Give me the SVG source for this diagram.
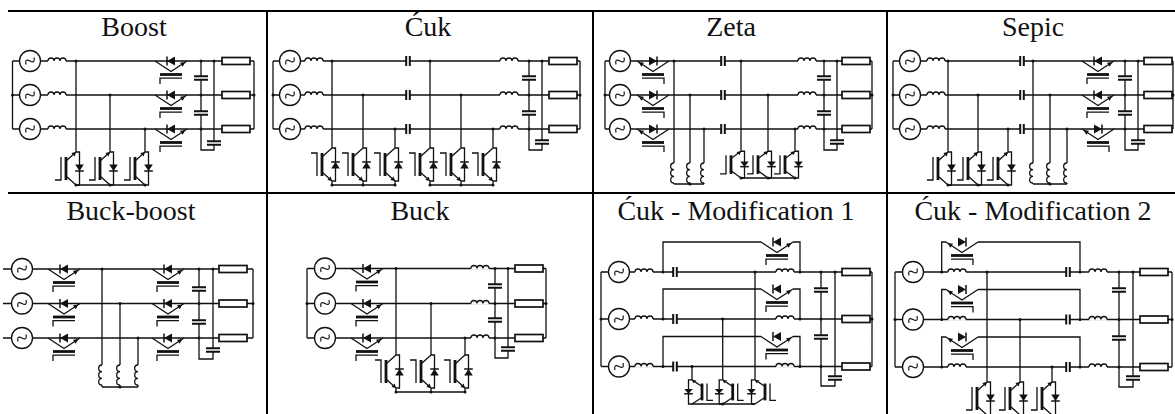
<svg xmlns="http://www.w3.org/2000/svg" width="1175" height="414" viewBox="0 0 1175 414">
<style>
.w{fill:none;stroke:#111;stroke-width:1.3}
.t{font-size:28px;fill:#111;text-anchor:middle}
.grid{fill:none;stroke:#000;stroke-width:2}
</style>
<defs>
<g id="src"><circle r="10.5" fill="#fff" stroke="#111" stroke-width="1.3"/><path d="M-4,3.5 Q-5.5,-3 0,0 Q5.5,3 4,-3.5" fill="none" stroke="#111" stroke-width="1.2"/></g>
<g id="lh"><rect x="0" y="-1.2" width="18" height="2.4" fill="#fff"/><path d="M0,0 a3,3 0 0 1 6,0 a3,3 0 0 1 6,0 a3,3 0 0 1 6,0" fill="none" stroke="#111" stroke-width="1.3"/></g>
<g id="lv"><rect x="-1.2" y="0" width="2.4" height="20" fill="#fff"/><path d="M0,0 a3.33,3.33 0 0 0 0,6.67 a3.33,3.33 0 0 0 0,6.67 a3.33,3.33 0 0 0 0,6.66" fill="none" stroke="#111" stroke-width="1.3"/></g>
<g id="cv"><rect x="-7" y="-1.8" width="14" height="3.6" fill="#fff"/><path d="M-7,-1.8 H7 M-7,1.8 H7" stroke="#111" stroke-width="2"/></g>
<g id="ch"><rect x="-1.8" y="-5" width="3.6" height="10" fill="#fff"/><path d="M-1.8,-5 V5 M1.8,-5 V5" stroke="#111" stroke-width="2"/></g>
<rect id="res" x="0" y="-3.5" width="28" height="7" fill="#fff" stroke="#111" stroke-width="1.7"/>
<circle id="dot" r="1.5" fill="#111"/>
<g id="igbt" fill="none" stroke="#111" stroke-width="1.3">
<path d="M0,0 H3.5 V33 H0 V37 M0,0 L-10,9 M-10,24 L0,33" vector-effect="non-scaling-stroke"/>
<path d="M-10,5 V28" stroke-width="2.8"/>
<path d="M-21,5 H-15 V28" vector-effect="non-scaling-stroke"/>
<polygon points="0,33 -4.6,32.1 -1.4,28.5" fill="#111" stroke="none"/>
<polygon points="-0.8,20.5 7.8,20.5 3.5,14" fill="#111" stroke="none"/>
<path d="M-0.8,14 H7.8" stroke-width="1.5" vector-effect="non-scaling-stroke"/>
</g>
<g id="sw" fill="none" stroke="#111" stroke-width="1.3">
<path d="M0,0 L16,10.5 L32,0"/>
<polygon points="30.5,1 27.6,5.7 25,1.8" fill="#111" stroke="none"/>
<path d="M5,13.5 H27" stroke-width="2.8"/>
<path d="M5,23 V17.2 H27"/>
<polygon points="12,0 20,-4.5 20,4.5" fill="#111" stroke="none"/>
<path d="M12,-4.5 V4.5" stroke-width="1.5"/>
</g>
</defs>
<rect width="1175" height="414" fill="#fff"/>
<g id="table" class="grid"><path d="M8,11 H1175 M8,193 H1175 M267,11 V414 M593,11 V414 M887,11 V414"/></g>
<g id="titles" font-family="'Liberation Serif', 'DejaVu Serif', serif">
<text class="t" font-family="Liberation Serif, DejaVu Serif, serif" x="134" y="36">Boost</text>
<text class="t" font-family="Liberation Serif, DejaVu Serif, serif" x="428" y="36">Ćuk</text>
<text class="t" font-family="Liberation Serif, DejaVu Serif, serif" x="731" y="36">Zeta</text>
<text class="t" font-family="Liberation Serif, DejaVu Serif, serif" x="1033" y="36">Sepic</text>
<text class="t" font-family="Liberation Serif, DejaVu Serif, serif" x="131" y="220">Buck-boost</text>
<text class="t" font-family="Liberation Serif, DejaVu Serif, serif" x="420" y="220">Buck</text>
<text class="t" font-family="Liberation Serif, DejaVu Serif, serif" x="736" y="220">Ćuk - Modification 1</text>
<text class="t" font-family="Liberation Serif, DejaVu Serif, serif" x="1033" y="220">Ćuk - Modification 2</text>
</g>
<g id="connectors" class="w">
<path id="boost-wires" d="M12.5,61 V129 M254,61 V129 M12.5,61 H254 M12.5,95 H254 M12.5,129 H254 M76,61 V148 M110,95 V148 M145,129 V148 M76,185 H145 M201,61 V150 H214 V61"/>
<path id="cuk-wires" d="M273,61 V129 M580,61 V129 M273,61 H580 M273,95 H580 M273,129 H580 M332,61 V148 M363,95 V148 M395,129 V148 M430,61 V148 M461,95 V148 M493,129 V148 M332,185 H395 M430,185 H493 M529,61 V150 H542 V61"/>
<path id="zeta-wires" d="M605,61 V129 M872,61 V129 M605,61 H872 M605,95 H872 M605,129 H872 M674,61 V184 M690,95 V184 M704,129 V184 M674,184 H704 M741,61 V148 M768,95 V148 M795,129 V148 M741,178 H795 M824,61 V150 H837 V61"/>
<path id="sepic-wires" d="M893,61 V129 M1173,61 V129 M893,61 H1173 M893,95 H1173 M893,129 H1173 M948,61 V148 M978,95 V148 M1008,129 V148 M948,185 H1008 M1033,61 V184 M1050,95 V184 M1067,129 V184 M1033,184 H1067 M1125,61 V150 H1138 V61"/>
<path id="buckboost-wires" d="M3,269 H253 M3,303.5 H253 M3,338 H253 M253,269 V338 M102,269 V387 M120,303.5 V387 M138,338 V387 M102,387 H138 M199,269 V359 H213 V269"/>
<path id="buck-wires" d="M307,268.5 V338 M546,268.5 V338 M307,268.5 H546 M307,303.5 H546 M307,338 H546 M396,268.5 V355 M431,303.5 V355 M465,338 V355 M396,392 H465 M495,268.5 V358 H508 V268.5"/>
<path id="mod1-wires" d="M601,272 V366.5 M872,272 V366.5 M601,272 H872 M601,319 H872 M601,366.5 H872 M663,272 V242 H761 M793,242 H800 V272 M663,319 V289 H761 M793,289 H800 V319 M663,366.5 V336.5 H761 M793,336.5 H800 V366.5 M755,272 V377 M722.7,319 V377 M692,366.5 V377 M692,404 H755 M821,272 V386 H835 V272"/>
<path id="mod2-wires" d="M895,272 V367 M1172,272 V367 M895,272 H1172 M895,319.5 H1172 M895,367 H1172 M941.7,272 V242 H946 M978,242 H1080 V272 M941.7,319.5 V289.5 H946 M978,289.5 H1080 V319.5 M941.7,367 V337 H946 M978,337 H1080 V367 M987,272 V378 M1020,319.5 V378 M1052,367 V378 M1119,272 V387 H1133 V272"/>
</g>
<g id="boost">
<use href="#src" x="30" y="61"/><use href="#src" x="30" y="95"/><use href="#src" x="30" y="129"/>
<use href="#lh" x="48" y="61"/><use href="#lh" x="48" y="95"/><use href="#lh" x="48" y="129"/>
<use href="#sw" x="155" y="61"/><use href="#sw" x="155" y="95"/><use href="#sw" x="155" y="129"/>
<use href="#igbt" transform="translate(76,185) scale(1,-1)"/><use href="#igbt" transform="translate(110,185) scale(1,-1)"/><use href="#igbt" transform="translate(145,185) scale(1,-1)"/>
<use href="#cv" x="201" y="78"/><use href="#cv" x="201" y="113"/><use href="#cv" x="214" y="143"/>
<use href="#res" x="222" y="61"/><use href="#res" x="222" y="95"/><use href="#res" x="222" y="129"/>
</g>
<g id="cuk">
<use href="#src" x="290" y="61"/><use href="#src" x="290" y="95"/><use href="#src" x="290" y="129"/>
<use href="#lh" x="305" y="61"/><use href="#lh" x="305" y="95"/><use href="#lh" x="305" y="129"/>
<use href="#igbt" x="332" y="148"/><use href="#igbt" x="363" y="148"/><use href="#igbt" x="395" y="148"/>
<use href="#igbt" x="430" y="148"/><use href="#igbt" x="461" y="148"/><use href="#igbt" x="493" y="148"/>
<use href="#ch" x="408" y="61"/><use href="#ch" x="408" y="95"/><use href="#ch" x="408" y="129"/>
<use href="#lh" x="500" y="61"/><use href="#lh" x="500" y="95"/><use href="#lh" x="500" y="129"/>
<use href="#cv" x="529" y="78"/><use href="#cv" x="529" y="113"/><use href="#cv" x="542" y="142"/>
<use href="#res" x="549" y="61"/><use href="#res" x="549" y="95"/><use href="#res" x="549" y="129"/>
</g>
<g id="zeta">
<use href="#src" x="620" y="61"/><use href="#src" x="620" y="95"/><use href="#src" x="620" y="129"/>
<use href="#sw" transform="translate(669,61) scale(-1,1)"/><use href="#sw" transform="translate(669,95) scale(-1,1)"/><use href="#sw" transform="translate(669,129) scale(-1,1)"/>
<use href="#lv" x="674" y="163"/><use href="#lv" x="690" y="163"/><use href="#lv" x="704" y="163"/>
<use href="#ch" x="723" y="61"/><use href="#ch" x="723" y="95"/><use href="#ch" x="723" y="129"/>
<use href="#igbt" transform="translate(741,178) scale(1,-0.81)"/><use href="#igbt" transform="translate(768,178) scale(1,-0.81)"/><use href="#igbt" transform="translate(795,178) scale(1,-0.81)"/>
<use href="#lh" x="798" y="61"/><use href="#lh" x="798" y="95"/><use href="#lh" x="798" y="129"/>
<use href="#cv" x="824" y="78"/><use href="#cv" x="824" y="113"/><use href="#cv" x="837" y="142"/>
<use href="#res" x="842" y="61"/><use href="#res" x="842" y="95"/><use href="#res" x="842" y="129"/>
</g>
<g id="sepic">
<use href="#src" x="910" y="61"/><use href="#src" x="910" y="95"/><use href="#src" x="910" y="129"/>
<use href="#lh" x="927" y="61"/><use href="#lh" x="927" y="95"/><use href="#lh" x="927" y="129"/>
<use href="#igbt" transform="translate(948,185) scale(1,-1)"/><use href="#igbt" transform="translate(978,185) scale(1,-1)"/><use href="#igbt" transform="translate(1008,185) scale(1,-1)"/>
<use href="#ch" x="1022" y="61"/><use href="#ch" x="1022" y="95"/><use href="#ch" x="1022" y="129"/>
<use href="#lv" x="1033" y="163"/><use href="#lv" x="1050" y="163"/><use href="#lv" x="1067" y="163"/>
<use href="#sw" x="1082" y="61"/><use href="#sw" x="1082" y="95"/><use href="#sw" transform="translate(1114,129) scale(-1,1)"/>
<use href="#cv" x="1125" y="78"/><use href="#cv" x="1125" y="113"/><use href="#cv" x="1138" y="142"/>
<use href="#res" x="1144" y="61"/><use href="#res" x="1144" y="95"/><use href="#res" x="1144" y="129"/>
</g>
<g id="buckboost">
<use href="#src" x="22" y="269"/><use href="#src" x="22" y="303.5"/><use href="#src" x="22" y="338"/>
<use href="#sw" x="48" y="269"/><use href="#sw" x="48" y="303.5"/><use href="#sw" x="48" y="338"/>
<use href="#lv" x="102" y="365"/><use href="#lv" x="120" y="365"/><use href="#lv" x="138" y="365"/>
<use href="#sw" x="152" y="269"/><use href="#sw" x="152" y="303.5"/><use href="#sw" x="152" y="338"/>
<use href="#cv" x="199" y="289"/><use href="#cv" x="199" y="322"/><use href="#cv" x="213" y="350"/>
<use href="#res" x="219" y="269"/><use href="#res" x="219" y="303.5"/><use href="#res" x="219" y="338"/>
</g>
<g id="buck">
<use href="#src" x="325" y="268.5"/><use href="#src" x="325" y="303.5"/><use href="#src" x="325" y="338"/>
<use href="#sw" x="351" y="268.5"/><use href="#sw" x="351" y="303.5"/><use href="#sw" x="351" y="338"/>
<use href="#igbt" x="396" y="355"/><use href="#igbt" x="431" y="355"/><use href="#igbt" x="465" y="355"/>
<use href="#lh" x="471" y="268.5"/><use href="#lh" x="471" y="303.5"/><use href="#lh" x="471" y="338"/>
<use href="#cv" x="495" y="286"/><use href="#cv" x="495" y="320"/><use href="#cv" x="508" y="349"/>
<use href="#res" x="515" y="268.5"/><use href="#res" x="515" y="303.5"/><use href="#res" x="515" y="338"/>
</g>
<g id="mod1">
<use href="#src" x="619" y="272"/><use href="#src" x="619" y="319"/><use href="#src" x="619" y="366.5"/>
<use href="#lh" x="635" y="272"/><use href="#lh" x="635" y="319"/><use href="#lh" x="635" y="366.5"/>
<use href="#ch" x="675" y="272"/><use href="#ch" x="675" y="319"/><use href="#ch" x="675" y="366.5"/>
<use href="#sw" x="761" y="242"/><use href="#sw" x="761" y="289"/><use href="#sw" x="761" y="336.5"/>
<use href="#lh" x="776" y="272"/><use href="#lh" x="776" y="319"/><use href="#lh" x="776" y="366.5"/>
<use href="#igbt" transform="translate(755,404) scale(-1,-0.73)"/><use href="#igbt" transform="translate(722.7,404) scale(-1,-0.73)"/><use href="#igbt" transform="translate(692,404) scale(-1,-0.73)"/>
<use href="#cv" x="821" y="290"/><use href="#cv" x="821" y="337"/><use href="#cv" x="835" y="378"/>
<use href="#res" x="842" y="272"/><use href="#res" x="842" y="319"/><use href="#res" x="842" y="366.5"/>
</g>
<g id="mod2">
<use href="#src" x="913" y="272"/><use href="#src" x="913" y="319.5"/><use href="#src" x="913" y="367"/>
<use href="#lh" x="948" y="272"/><use href="#lh" x="948" y="319.5"/><use href="#lh" x="948" y="367"/>
<use href="#sw" transform="translate(978,242) scale(-1,1)"/><use href="#sw" transform="translate(978,289.5) scale(-1,1)"/><use href="#sw" transform="translate(978,337) scale(-1,1)"/>
<use href="#igbt" transform="translate(987,415) scale(1,-1)"/><use href="#igbt" transform="translate(1020,415) scale(1,-1)"/><use href="#igbt" transform="translate(1052,415) scale(1,-1)"/>
<use href="#ch" x="1068" y="272"/><use href="#ch" x="1068" y="319.5"/><use href="#ch" x="1068" y="367"/>
<use href="#lh" x="1089" y="272"/><use href="#lh" x="1089" y="319.5"/><use href="#lh" x="1089" y="367"/>
<use href="#cv" x="1119" y="290"/><use href="#cv" x="1119" y="338"/><use href="#cv" x="1133" y="378"/>
<use href="#res" x="1140" y="272"/><use href="#res" x="1140" y="319.5"/><use href="#res" x="1140" y="367"/>
</g>
<g id="junctions">
<use href="#dot" x="12.5" y="95"/><use href="#dot" x="76" y="61"/><use href="#dot" x="110" y="95"/><use href="#dot" x="145" y="129"/><use href="#dot" x="76" y="185"/><use href="#dot" x="110" y="185"/><use href="#dot" x="145" y="185"/><use href="#dot" x="201" y="61"/><use href="#dot" x="201" y="95"/><use href="#dot" x="201" y="129"/><use href="#dot" x="214" y="61"/><use href="#dot" x="254" y="95"/>
<use href="#dot" x="273" y="95"/><use href="#dot" x="332" y="61"/><use href="#dot" x="363" y="95"/><use href="#dot" x="395" y="129"/><use href="#dot" x="430" y="61"/><use href="#dot" x="461" y="95"/><use href="#dot" x="493" y="129"/><use href="#dot" x="332" y="185"/><use href="#dot" x="363" y="185"/><use href="#dot" x="395" y="185"/><use href="#dot" x="430" y="185"/><use href="#dot" x="461" y="185"/><use href="#dot" x="493" y="185"/><use href="#dot" x="529" y="61"/><use href="#dot" x="529" y="95"/><use href="#dot" x="529" y="129"/><use href="#dot" x="542" y="61"/><use href="#dot" x="580" y="95"/>
<use href="#dot" x="605" y="95"/><use href="#dot" x="674" y="61"/><use href="#dot" x="690" y="95"/><use href="#dot" x="704" y="129"/><use href="#dot" x="690" y="184"/><use href="#dot" x="741" y="61"/><use href="#dot" x="768" y="95"/><use href="#dot" x="795" y="129"/><use href="#dot" x="741" y="178"/><use href="#dot" x="768" y="178"/><use href="#dot" x="795" y="178"/><use href="#dot" x="824" y="61"/><use href="#dot" x="824" y="95"/><use href="#dot" x="824" y="129"/><use href="#dot" x="837" y="61"/><use href="#dot" x="872" y="95"/>
<use href="#dot" x="893" y="95"/><use href="#dot" x="948" y="61"/><use href="#dot" x="978" y="95"/><use href="#dot" x="1008" y="129"/><use href="#dot" x="948" y="185"/><use href="#dot" x="978" y="185"/><use href="#dot" x="1008" y="185"/><use href="#dot" x="1033" y="61"/><use href="#dot" x="1050" y="95"/><use href="#dot" x="1067" y="129"/><use href="#dot" x="1050" y="184"/><use href="#dot" x="1125" y="61"/><use href="#dot" x="1125" y="95"/><use href="#dot" x="1125" y="129"/><use href="#dot" x="1138" y="61"/><use href="#dot" x="1173" y="95"/>
<use href="#dot" x="102" y="269"/><use href="#dot" x="120" y="303.5"/><use href="#dot" x="138" y="338"/><use href="#dot" x="120" y="387"/><use href="#dot" x="199" y="269"/><use href="#dot" x="199" y="303.5"/><use href="#dot" x="199" y="338"/><use href="#dot" x="213" y="269"/><use href="#dot" x="253" y="303.5"/>
<use href="#dot" x="307" y="303.5"/><use href="#dot" x="396" y="268.5"/><use href="#dot" x="431" y="303.5"/><use href="#dot" x="465" y="338"/><use href="#dot" x="396" y="392"/><use href="#dot" x="431" y="392"/><use href="#dot" x="465" y="392"/><use href="#dot" x="495" y="268.5"/><use href="#dot" x="495" y="303.5"/><use href="#dot" x="495" y="338"/><use href="#dot" x="508" y="268.5"/><use href="#dot" x="546" y="303.5"/>
<use href="#dot" x="601" y="319"/><use href="#dot" x="663" y="272"/><use href="#dot" x="663" y="319"/><use href="#dot" x="663" y="366.5"/><use href="#dot" x="755" y="272"/><use href="#dot" x="722.7" y="319"/><use href="#dot" x="692" y="366.5"/><use href="#dot" x="800" y="272"/><use href="#dot" x="800" y="319"/><use href="#dot" x="800" y="366.5"/><use href="#dot" x="722.7" y="404"/><use href="#dot" x="821" y="272"/><use href="#dot" x="821" y="319"/><use href="#dot" x="821" y="366.5"/><use href="#dot" x="835" y="272"/><use href="#dot" x="872" y="319"/>
<use href="#dot" x="895" y="319.5"/><use href="#dot" x="941.7" y="272"/><use href="#dot" x="941.7" y="319.5"/><use href="#dot" x="941.7" y="367"/><use href="#dot" x="987" y="272"/><use href="#dot" x="1020" y="319.5"/><use href="#dot" x="1052" y="367"/><use href="#dot" x="1080" y="272"/><use href="#dot" x="1080" y="319.5"/><use href="#dot" x="1080" y="367"/><use href="#dot" x="1119" y="272"/><use href="#dot" x="1119" y="319.5"/><use href="#dot" x="1119" y="367"/><use href="#dot" x="1133" y="272"/><use href="#dot" x="1172" y="319.5"/>
</g>
</svg>
